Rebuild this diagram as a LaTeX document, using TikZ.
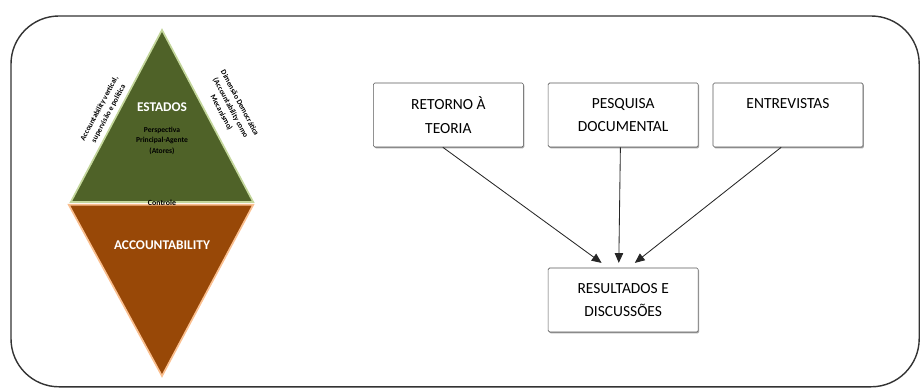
\documentclass[tikz,border=0pt]{standalone}
\usepackage{fontspec}
\setmainfont{Carlito}
\usetikzlibrary{arrows.meta,shadows}

\definecolor{est_green}{RGB}{79,98,40}
\definecolor{est_line}{RGB}{195,214,155}
\definecolor{acc_brown}{RGB}{152,72,7}
\definecolor{acc_line}{RGB}{250,191,143}

\begin{document}
\begin{tikzpicture}[thin, >={Triangle[length=7pt,width=6pt]},
	box_node/.style={draw=black!65, fill=white, rounded corners=1pt, minimum width=3.75cm, minimum height=1.6cm, align=center, font=\fontsize{11}{17}\selectfont, drop shadow={shadow xshift=0.7pt, shadow yshift=-0.9pt, opacity=0.7}},
	big_text/.style={text=white, font=\fontsize{9.5}{11}\selectfont\bfseries},
	small_text/.style={align=center, font=\fontsize{5.4}{7.4}\selectfont\bfseries}]
				\useasboundingbox (0,0) rectangle (23.025,9.7);
				\draw[black!80, line width=1pt, rounded corners=1.2cm](0.275,0.03) rectangle (22.98,9.3);
				% pyramid
				\draw[est_line, line width=1.2pt, fill=est_green](4.05,8.95) -- (6.33,4.65) -- (1.77,4.65) -- cycle;
				\draw[acc_line, line width=1.2pt, fill=acc_brown](1.72,4.58) -- (6.33,4.58) -- (4.05,0.3) -- cycle;
				\node[big_text](est) at (4.05,7.02){ESTADOS};
				\node[small_text](persp) at (4.05,6.18){Perspectiva\\Principal-Agente\\(Atores)};
				\node[small_text, font=\fontsize{5.6}{7}\selectfont\bfseries](ctrl) at (4.05,4.64){Controle};
				\node[big_text](acc) at (4.05,3.57){ACCOUNTABILITY};
				\node[small_text, rotate=62](vert) at (2.6,6.92){Accountability vertical,\\supervisão e política};
				\node[small_text, rotate=-62](dem) at (5.76,7.0){Dimensão Democrática\\(Accountability como\\Mecanismo)};
				% boxes
				\node[box_node](ret) at (11.21,6.825){RETORNO À\\TEORIA};
				\node[box_node](pes) at (15.58,6.825){PESQUISA\\DOCUMENTAL};
				\node[box_node](ent) at (19.7,6.825){ENTREVISTAS\\\mbox{}};
				\node[box_node](res) at (15.58,2.2){RESULTADOS E\\DISCUSSÕES};
				\draw[->, black!85, line width=0.6pt]([xshift=-0.14cm]ret.south) -- ([xshift=-0.54cm, yshift=0.12cm]res.north);
				\draw[->, black!85, line width=0.6pt]([xshift=-0.07cm]pes.south) -- ([xshift=-0.11cm, yshift=0.12cm]res.north);
				\draw[->, black!85, line width=0.6pt]([xshift=-0.17cm]ent.south) -- ([xshift=0.29cm, yshift=0.12cm]res.north);
			\end{tikzpicture}
\end{document}
